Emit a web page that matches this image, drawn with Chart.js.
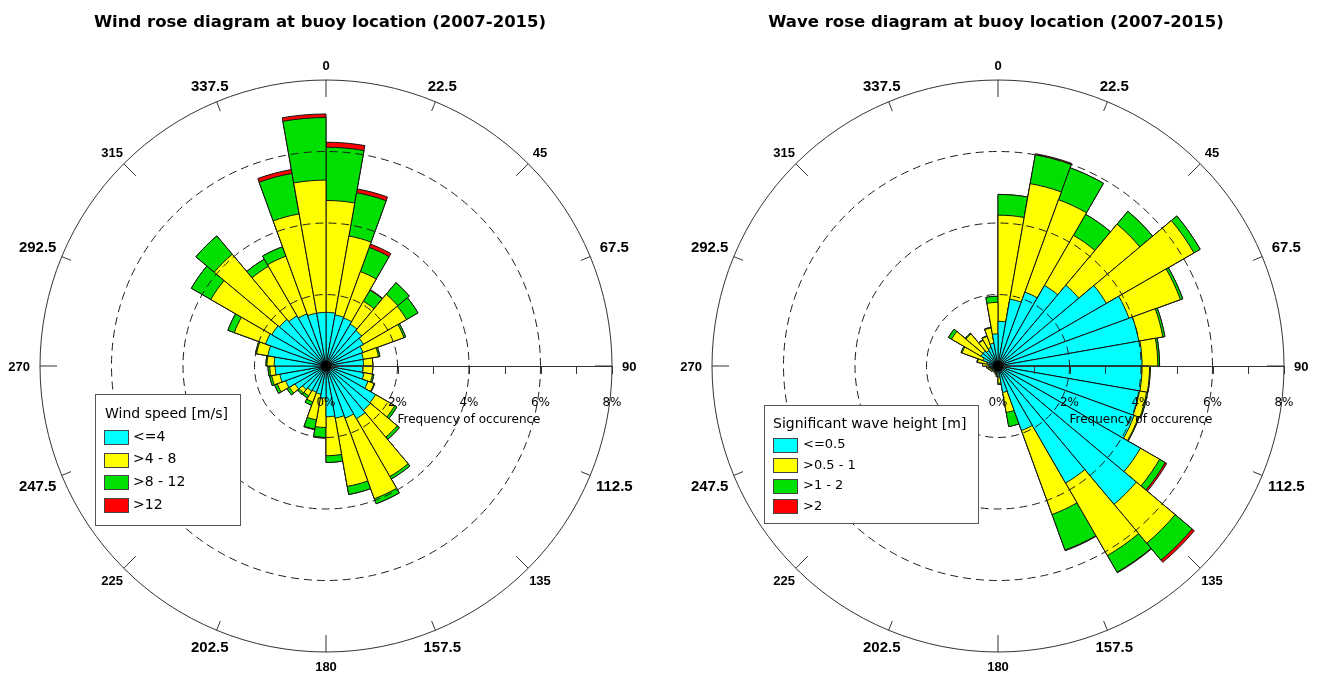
<!DOCTYPE html>
<html>
<head>
<meta charset="utf-8">
<title>Wind and wave roses</title>
<script src="https://cdn.jsdelivr.net/npm/chart.js@4.4.0/dist/chart.umd.min.js"></script>
<style>
  html, body { margin: 0; padding: 0; background: #ffffff; }
  #wrap { position: relative; width: 1320px; height: 677px; overflow: hidden; }
  .pane { position: absolute; top: 0; width: 660px; height: 677px; }
  #windPane { left: 0; }
  #wavePane { left: 660px; }
  canvas { display: block; }
</style>
</head>
<body>
<div id="wrap">
  <div class="pane" id="windPane"><canvas id="windRose" width="660" height="677"></canvas></div>
  <div class="pane" id="wavePane"><canvas id="waveRose" width="660" height="677"></canvas></div>
</div>
<script>
// Compass labels around the rim and radial frequency labels (percent of time)
const directionLabels = ['0', '22.5', '45', '67.5', '90', '112.5', '135', '157.5',
                         '180', '202.5', '225', '247.5', '270', '292.5', '315', '337.5'];
const radialTickValues = [0, 2, 4, 6, 8];
const radialTickLabels = ['0%', '2%', '4%', '6%', '8%'];
const radialMax = 8;

// 36 direction sectors of 10 degrees, clockwise from north
const sectorLabels = Array.from({ length: 36 }, (_, i) => (i * 10) + '-' + (i * 10 + 10));

// Wind speed classes, frequency of occurrence [%] per sector
const windClasses = ['<=4', '>4 - 8', '>8 - 12', '>12'];
const windUpTo4 = [1.50, 1.45, 1.43, 1.35, 1.30, 1.21, 1.10, 1.06, 1.05, 1.04, 1.08, 1.25,
                   1.60, 1.62, 1.70, 1.55, 1.48, 1.42, 0.90, 0.80, 0.78, 0.80, 0.86, 1.00,
                   1.20, 1.31, 1.42, 1.45, 1.65, 1.80, 1.75, 1.70, 1.62, 1.55, 1.50, 1.50];
const wind4to8 = [3.13, 2.24, 1.38, 0.74, 1.32, 1.39, 1.22, 0.43, 0.26, 0.27, 0.24, 0.18,
                  0.62, 0.98, 1.87, 2.40, 1.94, 1.09, 0.82, 0.73, 0.29, 0.16, 0.12, 0.18,
                  0.25, 0.23, 0.15, 0.20, 0.32, 0.93, 1.97, 2.38, 1.60, 1.72, 2.82, 3.70];
const wind8to12 = [1.49, 1.23, 0.72, 0.36, 0.42, 0.37, 0.05, 0.04, 0.00, 0.00, 0.04, 0.02,
                   0.07, 0.08, 0.08, 0.15, 0.23, 0.19, 0.28, 0.26, 0.10, 0.07, 0.06, 0.08,
                   0.08, 0.06, 0.05, 0.03, 0.03, 0.19, 0.63, 0.67, 0.23, 0.28, 1.15, 1.75];
const windAbove12 = [0.14, 0.11, 0.10, 0.02, 0.00, 0.00, 0.00, 0.00, 0.00, 0.00, 0.00, 0.00,
                     0.00, 0.00, 0.00, 0.00, 0.00, 0.00, 0.02, 0.02, 0.00, 0.00, 0.00, 0.00,
                     0.00, 0.00, 0.00, 0.00, 0.00, 0.00, 0.00, 0.00, 0.00, 0.00, 0.11, 0.10];

// Significant wave height classes, frequency of occurrence [%] per sector
const waveClasses = ['<=0.5', '>0.5 - 1', '>1 - 2', '>2'];
const waveUpTo05 = [1.25, 1.90, 2.20, 2.60, 2.95, 3.50, 3.90, 4.00, 4.03, 4.03, 4.02, 4.05,
                    4.60, 5.05, 3.78, 1.92, 0.75, 0.30, 0.20, 0.18, 0.15, 0.15, 0.15, 0.18,
                    0.18, 0.20, 0.22, 0.25, 0.30, 0.45, 0.55, 0.55, 0.50, 0.55, 0.65, 0.90];
const wave05to1 = [2.97, 3.28, 2.75, 1.62, 2.23, 2.83, 1.53, 0.68, 0.44, 0.21, 0.20, 0.13,
                   0.62, 1.42, 2.34, 2.50, 0.57, 0.18, 0.08, 0.06, 0.05, 0.05, 0.05, 0.06,
                   0.07, 0.08, 0.10, 0.18, 0.28, 0.62, 0.95, 0.62, 0.33, 0.33, 0.43, 0.88];
const wave1to2 = [0.58, 0.82, 0.95, 0.68, 0.47, 0.20, 0.07, 0.06, 0.05, 0.02, 0.03, 0.02,
                  0.18, 0.62, 0.54, 1.06, 0.40, 0.04, 0.02, 0.00, 0.00, 0.00, 0.00, 0.00,
                  0.00, 0.00, 0.00, 0.00, 0.02, 0.03, 0.10, 0.03, 0.02, 0.02, 0.02, 0.17];
const waveAbove2 = [0.00, 0.03, 0.00, 0.00, 0.00, 0.00, 0.00, 0.00, 0.00, 0.00, 0.00, 0.00,
                    0.05, 0.08, 0.02, 0.02, 0.00, 0.00, 0.00, 0.00, 0.00, 0.00, 0.00, 0.00,
                    0.00, 0.00, 0.00, 0.00, 0.00, 0.00, 0.00, 0.00, 0.00, 0.00, 0.00, 0.00];

const classColors = ['#00ffff', '#ffff00', '#00e000', '#ff0000'];

// Polar-area arcs all start at the hub, so each class is drawn as the running
// total of itself and the classes below it; dataset 0 is painted last (on top).
function runningTotals(parts) {
  const sums = new Array(parts[0].length).fill(0);
  return parts.map(part => part.map((v, i) => (sums[i] = +(sums[i] + v).toFixed(4))));
}

const FONT_TEXT = '"DejaVu Sans", Verdana, sans-serif';
const FONT_RIM = '"Liberation Sans", Arial, sans-serif';

function roseDecorations(cfg) {
  return {
    id: 'roseDecorations',
    afterDatasetsDraw(chart) {
      const s = chart.scales.r;
      const ctx = chart.ctx;
      const cx = s.xCenter, cy = s.yCenter;
      const R = s.getDistanceFromCenterForValue(radialMax);
      ctx.save();
      ctx.strokeStyle = '#333';
      ctx.lineWidth = 1;
      // radial axis towards 90 degrees with 1 % ticks
      ctx.beginPath();
      ctx.moveTo(cx, Math.round(cy) + 0.5);
      ctx.lineTo(cx + R, Math.round(cy) + 0.5);
      for (let v = 1; v <= radialMax; v++) {
        const x = Math.round(cx + s.getDistanceFromCenterForValue(v)) + 0.5;
        ctx.moveTo(x, cy);
        ctx.lineTo(x, cy + 8);
      }
      ctx.stroke();
      // outer rim
      ctx.beginPath();
      ctx.arc(cx, cy, R, 0, Math.PI * 2);
      ctx.stroke();
      // compass ticks on the rim
      ctx.beginPath();
      directionLabels.forEach((_, i) => {
        const a = i * 22.5 * Math.PI / 180;
        const sx = Math.sin(a), sy = -Math.cos(a);
        const len = i % 2 ? 10 : 17;
        ctx.moveTo(cx + sx * (R - len), cy + sy * (R - len));
        ctx.lineTo(cx + sx * R, cy + sy * R);
      });
      ctx.stroke();
      // hub
      ctx.fillStyle = '#000';
      ctx.beginPath();
      ctx.arc(cx, cy, 5.5, 0, Math.PI * 2);
      ctx.fill();
      ctx.restore();
    },
    afterDraw(chart) {
      const s = chart.scales.r;
      const ctx = chart.ctx;
      const cx = s.xCenter, cy = s.yCenter;
      const R = s.getDistanceFromCenterForValue(radialMax);
      ctx.save();
      ctx.fillStyle = '#000';

      // title
      ctx.font = 'bold 16.5px ' + FONT_TEXT;
      ctx.textAlign = 'center';
      ctx.textBaseline = 'middle';
      ctx.fillText(cfg.title, cfg.titleX, 23);

      // compass labels
      directionLabels.forEach((label, i) => {
        const size = i % 2 ? 15 : 13;
        ctx.font = 'bold ' + size + 'px ' + FONT_RIM;
        const w = ctx.measureText(label).width;
        const h = size * 0.72;
        const a = i * 22.5 * Math.PI / 180;
        const sx = Math.sin(a), sy = -Math.cos(a);
        const ex = Math.abs(sx) > 1e-6 ? (w / 2) / Math.abs(sx) : Infinity;
        const ey = Math.abs(sy) > 1e-6 ? (h / 2) / Math.abs(sy) : Infinity;
        const d = R + 10 + Math.min(ex, ey) + (i % 2 ? 2 : 0);
        ctx.textAlign = 'center';
        ctx.textBaseline = 'alphabetic';
        ctx.fillText(label, cx + sx * d, cy + sy * d + h / 2);
      });

      // radial tick labels and axis caption
      ctx.font = '12px ' + FONT_TEXT;
      ctx.textAlign = 'center';
      ctx.textBaseline = 'middle';
      radialTickValues.forEach((v, i) => {
        ctx.fillText(radialTickLabels[i], cx + s.getDistanceFromCenterForValue(v), cy + 37);
      });
      ctx.fillText('Frequency of occurence', cx + s.getDistanceFromCenterForValue(4), cy + 54);

      // legend
      const L = cfg.legend;
      ctx.strokeStyle = '#555';
      ctx.lineWidth = 1;
      ctx.fillStyle = '#fff';
      const bx = Math.round(cx + L.dx) + 0.5, by = Math.round(cy + L.dy) + 0.5;
      ctx.fillRect(bx, by, L.w, L.h);
      ctx.strokeRect(bx, by, L.w, L.h);
      ctx.fillStyle = '#000';
      ctx.font = L.titleSize + 'px ' + FONT_TEXT;
      ctx.textAlign = 'left';
      ctx.textBaseline = 'middle';
      ctx.fillText(L.title, cx + L.titleDx, cy + L.titleDy);
      ctx.font = L.itemSize + 'px ' + FONT_TEXT;
      L.items.forEach((item, k) => {
        const ry = cy + L.rowDy + k * L.rowStep;
        const sx0 = Math.round(cx + L.swatchDx) + 0.5, sy0 = Math.round(ry - 7) + 0.5;
        ctx.fillStyle = classColors[k];
        ctx.fillRect(sx0, sy0, 24, 14);
        ctx.strokeStyle = '#444';
        ctx.strokeRect(sx0, sy0, 24, 14);
        ctx.fillStyle = '#000';
        ctx.fillText(item, cx + L.textDx, ry);
      });
      ctx.restore();
    }
  };
}

function buildRose(canvasId, classes, parts, pad, decor) {
  const stacks = runningTotals(parts);
  return new Chart(document.getElementById(canvasId), {
    type: 'polarArea',
    data: {
      labels: sectorLabels,
      datasets: stacks.map((data, k) => ({
        label: classes[k],
        data: data,
        backgroundColor: classColors[k],
        borderColor: '#141414',
        borderWidth: 1
      }))
    },
    options: {
      responsive: false,
      animation: false,
      events: [],
      layout: { padding: pad },
      plugins: {
        legend: { display: false },
        tooltip: { enabled: false },
        title: { display: false }
      },
      scales: {
        r: {
          min: 0,
          max: radialMax,
          startAngle: 0,
          ticks: { display: false, stepSize: 2 },
          pointLabels: { display: false },
          angleLines: { display: false },
          grid: {
            circular: true,
            z: 1,
            lineWidth: 1,
            color: (c) => (c.tick && c.tick.value >= radialMax) ? 'rgba(0,0,0,0)' : '#1e1e1e'
          },
          border: { dash: [8, 5] }
        }
      }
    },
    plugins: [roseDecorations(decor)]
  });
}

buildRose('windRose', windClasses, [windUpTo4, wind4to8, wind8to12, windAbove12],
  { top: 80, bottom: 25, left: 0, right: 8 },
  {
    title: 'Wind rose diagram at buoy location (2007-2015)',
    titleX: 320,
    legend: {
      title: 'Wind speed [m/s]', items: windClasses,
      dx: -231, dy: 28, w: 145, h: 131,
      titleDx: -221, titleDy: 48, titleSize: 14, itemSize: 14,
      rowDy: 71, rowStep: 22.7, swatchDx: -222, textDx: -193
    }
  });

buildRose('waveRose', waveClasses, [waveUpTo05, wave05to1, wave1to2, waveAbove2],
  { top: 80, bottom: 25, left: 16, right: 0 },
  {
    title: 'Wave rose diagram at buoy location (2007-2015)',
    titleX: 336,
    legend: {
      title: 'Significant wave height [m]', items: waveClasses,
      dx: -234, dy: 39, w: 214, h: 118,
      titleDx: -225, titleDy: 58, titleSize: 14, itemSize: 13,
      rowDy: 79, rowStep: 20.4, swatchDx: -225, textDx: -195
    }
  });
</script>
</body>
</html>
